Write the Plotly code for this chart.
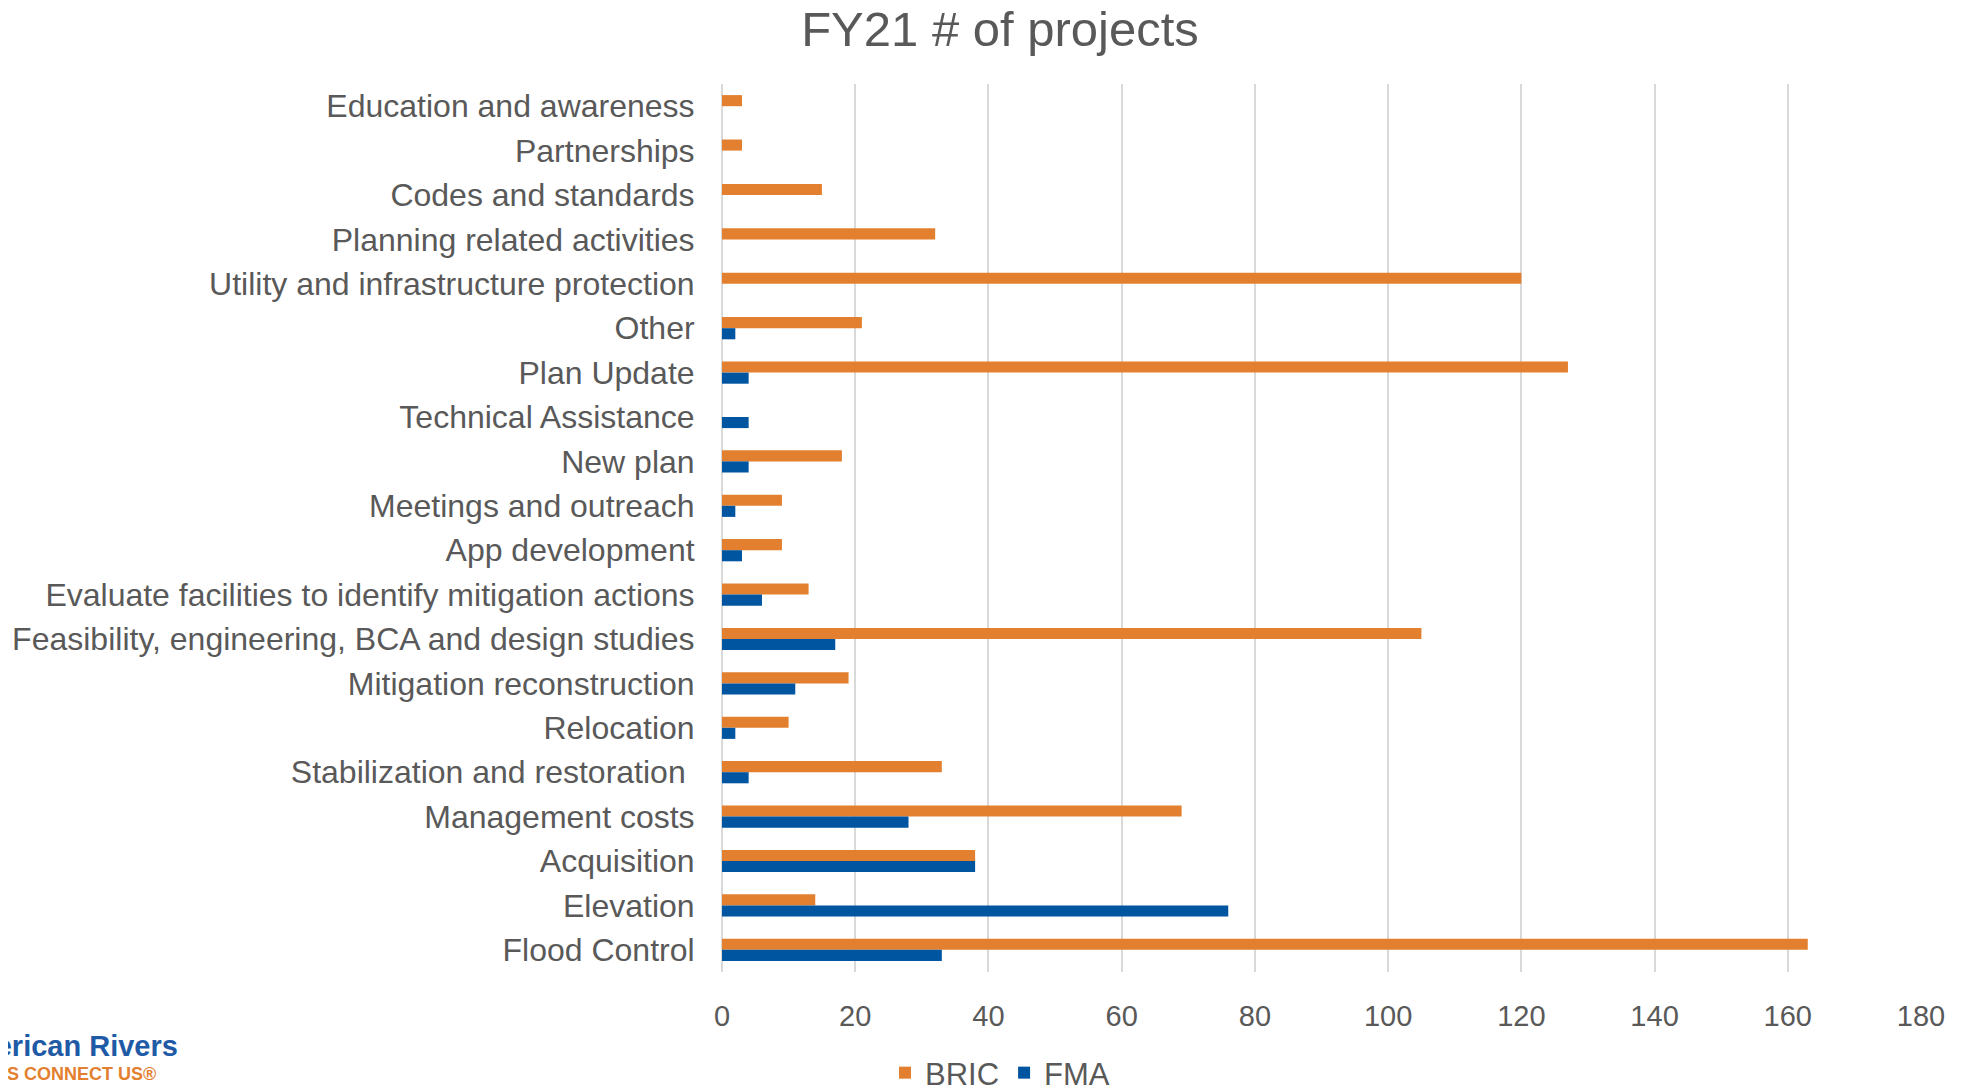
import plotly.graph_objects as go

categories = [
    "Education and awareness", "Partnerships", "Codes and standards",
    "Planning related activities", "Utility and infrastructure protection",
    "Other", "Plan Update", "Technical Assistance", "New plan",
    "Meetings and outreach", "App development",
    "Evaluate facilities to identify mitigation actions",
    "Feasibility, engineering, BCA and design studies",
    "Mitigation reconstruction", "Relocation",
    "Stabilization and restoration\u00a0", "Management costs",
    "Acquisition", "Elevation", "Flood Control",
]
bric = [3, 3, 15, 32, 120, 21, 127, 0, 18, 9, 9, 13, 105, 19, 10, 33, 69, 38, 14, 163]
fma = [0, 0, 0, 0, 0, 2, 4, 4, 4, 2, 3, 6, 17, 11, 2, 4, 28, 38, 76, 33]
x_ticks = [0, 20, 40, 60, 80, 100, 120, 140, 160, 180]

ORANGE = "#E3802F"
BLUE = "#0055A0"
GRAY = "#595959"
FONT = "Liberation Sans, Arial, sans-serif"

fig = go.Figure()
fig.add_trace(go.Bar(y=categories, x=bric, orientation="h", name="BRIC",
                     marker=dict(color=ORANGE, line=dict(width=0))))
fig.add_trace(go.Bar(y=categories, x=fma, orientation="h", name="FMA",
                     marker=dict(color=BLUE, line=dict(width=0))))

# page has an 8px body margin; figure coords = page coords - 8
OFF = 8
W, H = 1961 - OFF, 1090 - OFF
L, R, T, B = 722 - OFF, 40, 84 - OFF, 118

fig.update_layout(
    width=W, height=H,
    margin=dict(l=L, r=R, t=T, b=B, autoexpand=False),
    paper_bgcolor="white", plot_bgcolor="white",
    barmode="group", bargap=0.5, bargroupgap=0,
    font=dict(family=FONT, color=GRAY, size=32),
    title=dict(text="FY21 # of projects", x=(1000 - OFF) / W, xref="container",
               xanchor="center", y=1 - (29 - OFF) / H, yref="container", yanchor="middle",
               font=dict(size=49, color=GRAY, family=FONT)),
    xaxis=dict(range=[0, 180], tickvals=x_ticks, showgrid=True,
               gridcolor="#D9D9D9", gridwidth=1.5, zeroline=True,
               zerolinecolor="#D9D9D9", zerolinewidth=1.5, showline=False,
               ticks="outside", ticklen=18, tickcolor="rgba(0,0,0,0)",
               tickfont=dict(size=29, color=GRAY)),
    yaxis=dict(type="category", categoryorder="array", categoryarray=categories,
               autorange="reversed", showgrid=False, showline=False,
               ticks="outside", ticklen=20, tickcolor="rgba(0,0,0,0)",
               tickfont=dict(size=32, color=GRAY)),
    legend=dict(orientation="h", xref="container", x=(1000 - OFF) / W, xanchor="center",
                yref="container", y=1 - (1073 - OFF) / H, yanchor="middle",
                font=dict(size=31, color=GRAY), itemwidth=30,
                traceorder="normal"),
    showlegend=True,
)


def px_to_paper_x(px):
    return (px - OFF - L) / (W - L - R)


def py_to_paper_y(py):
    return 1 - (py - OFF - T) / (H - T - B)


# logo text (partially cut off at the left edge)
fig.add_annotation(text="<b>American Rivers</b>", xref="paper", yref="paper",
                   x=px_to_paper_x(180), y=py_to_paper_y(1046), xanchor="right",
                   yanchor="middle", showarrow=False,
                   font=dict(family="Liberation Sans Narrow, Arial Narrow, Liberation Sans, sans-serif",
                             size=29, color="#1F5AA6"))
fig.add_annotation(text="<b>RIVERS CONNECT US®</b>", xref="paper", yref="paper",
                   x=px_to_paper_x(158), y=py_to_paper_y(1074), xanchor="right",
                   yanchor="middle", showarrow=False,
                   font=dict(family="Liberation Sans, Arial, sans-serif",
                             size=18, color="#E3802F"))

fig.write_html("out.html")
